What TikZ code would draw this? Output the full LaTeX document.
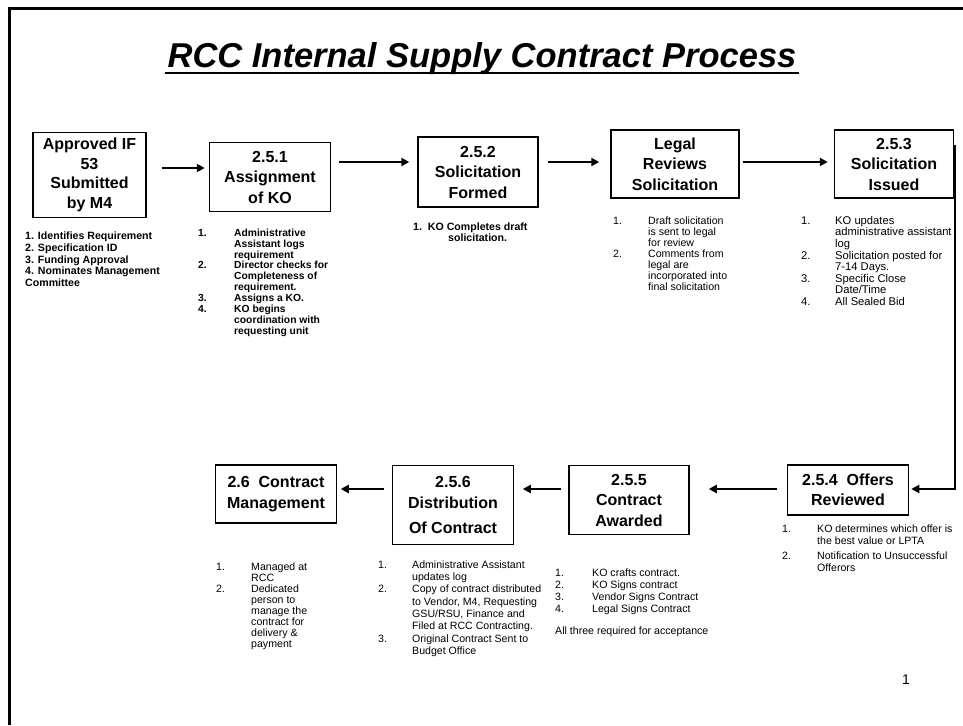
\documentclass[tikz,border=0pt]{standalone}
\usepackage{fontspec}
\setmainfont{Liberation Sans}
\usepackage{tikz}
\usetikzlibrary{arrows.meta}

\newlength\numw
\newcommand\boxfont{\bfseries\fontsize{16}{20.5}\selectfont}
\newcommand\notefont[1]{\fontsize{10.6}{#1}\selectfont}
\newcommand\nr[1]{\makebox[\numw][l]{#1}}
\newcommand\steplist[2]{\setlength\numw{#1}\begin{tabular}{@{}l@{}l@{}}#2\end{tabular}}

\tikzset{
  stepbox/.style={draw, line width=1.5pt, align=center, font=\boxfont, inner sep=0pt},
  flow/.style={line width=2.4pt, -{Triangle[length=8pt,width=8pt]}},
  notes/.style={anchor=north west, inner sep=0pt, align=left},
}

\begin{document}
\begin{tikzpicture}[x=1pt,y=-1pt]
    \useasboundingbox (0,0) rectangle (963,725);
    % Frame and title
    \draw[line width=3pt] (9,725) -- (9,9) -- (963,9);
    \node[anchor=base, inner sep=0pt, font=\bfseries\itshape\fontsize{34.5}{40}\selectfont] (title) at (482,67) {RCC Internal Supply Contract Process};
    \draw[line width=2.5pt] ([shift={(-2,6)}]title.base west) -- ([shift={(2,6)}]title.base east);

    % Top row of steps
    \node[stepbox, minimum width=113, minimum height=85, font=\bfseries\fontsize{16}{19.5}\selectfont] (appr) at (89.5,175) {Approved IF\\53\\Submitted\\by M4};
    \node[stepbox, minimum width=121, minimum height=69] (s251) at (270,177) {2.5.1\\Assignment\\of KO};
    \node[stepbox, minimum width=120, minimum height=70] (s252) at (478,172) {2.5.2\\Solicitation\\Formed};
    \node[stepbox, minimum width=128, minimum height=68] (legal) at (675,164) {Legal\\Reviews\\Solicitation};
    \node[stepbox, minimum width=119, minimum height=68] (s253) at (894,164) {2.5.3\\Solicitation\\Issued};

    % Bottom row of steps
    \node[stepbox, minimum width=121, minimum height=50] (s254) at (848,490) {2.5.4~~Offers\\Reviewed};
    \node[stepbox, minimum width=120, minimum height=69] (s255) at (629,500) {2.5.5\\Contract\\Awarded};
    \node[stepbox, minimum width=121, minimum height=79] (s256) at (453,505) {2.5.6\\Distribution\\[5pt]Of Contract};
    \node[stepbox, minimum width=121, minimum height=58] (s26) at (276,494) {2.6~~Contract\\Management};

    % Arrows between steps
    \draw[flow] ([shift={(15,-7)}]appr.east) -- ([shift={(-4,-9)}]s251.west);
    \draw[flow] ([shift={(8,-15)}]s251.east) -- ([shift={(-8,-10)}]s252.west);
    \draw[flow] ([shift={(9,-10)}]s252.east) -- ([shift={(-11,-2)}]legal.west);
    \draw[flow] ([shift={(3,-2)}]legal.east) -- ([shift={(-6,-2)}]s253.west);
    \draw[flow] ([shift={(1,-19)}]s253.east) |- ([shift={(2,-1)}]s254.east);
    \draw[flow] ([shift={(-9.5,-1)}]s254.west) -- ([shift={(19,-11)}]s255.east);
    \draw[flow] ([shift={(-7,-11)}]s255.west) -- ([shift={(8.5,-16)}]s256.east);
    \draw[flow] ([shift={(-7.5,-16)}]s256.west) -- ([shift={(3.5,-5)}]s26.east);

    % Notes under each step
    \node[notes, font=\bfseries\notefont{11.7}] (n0) at (25,232) {1. Identifies Requirement\\2. Specification ID\\3. Funding Approval\\4. Nominates Management\\Committee};
    \node[notes, font=\bfseries\fontsize{10.3}{10.9}\selectfont] (n251) at (198,228.4) {\steplist{36pt}{\nr{1.} & Administrative\\ & Assistant logs\\ & requirement\\\nr{2.} & Director checks for\\ & Completeness of\\ & requirement.\\\nr{3.} & Assigns a KO.\\\nr{4.} & KO begins\\ & coordination with\\ & requesting unit}};
    \node[notes, font=\bfseries\notefont{11}] (n252) at (413,222.3) {1.~~KO Completes draft\\\hspace*{35pt}solicitation.};
    \node[notes, font=\notefont{11}] (nlegal) at (613,216.3) {\steplist{35pt}{\nr{1.} & Draft solicitation\\ & is sent to legal\\ & for review\\\nr{2.} & Comments from\\ & legal are\\ & incorporated into\\ & final solicitation}};
    \node[notes, font=\fontsize{11.2}{11.5}\selectfont] (n253) at (801,216) {\steplist{34pt}{\nr{1.} & KO updates\\ & administrative assistant\\ & log\\\nr{2.} & Solicitation posted for\\ & 7-14 Days.\\\nr{3.} & Specific Close\\ & Date/Time\\\nr{4.} & All Sealed Bid}};
    \node[notes, font=\notefont{12}] (n254) at (782,523.6) {\steplist{35pt}{\nr{1.} & KO determines which offer is\\ & the best value or LPTA\\[3pt]\nr{2.} & Notification to Unsuccessful\\ & Offerors}};
    \node[notes, font=\notefont{12}] (n255) at (555,567.6) {\steplist{37pt}{\nr{1.} & KO crafts contract.\\\nr{2.} & KO Signs contract\\\nr{3.} & Vendor Signs Contract\\\nr{4.} & Legal Signs Contract\\[10pt]\multicolumn{2}{@{}l@{}}{All three required for acceptance}}};
    \node[notes, font=\notefont{12.3}] (n256) at (378,559.4) {\steplist{34pt}{\nr{1.} & Administrative Assistant\\ & updates log\\\nr{2.} & Copy of contract distributed\\ & to Vendor, M4, Requesting\\ & GSU/RSU, Finance and\\ & Filed at RCC Contracting.\\\nr{3.} & Original Contract Sent to\\ & Budget Office}};
    \node[notes, font=\notefont{11}] (n26) at (216,562.3) {\steplist{35pt}{\nr{1.} & Managed at\\ & RCC\\\nr{2.} & Dedicated\\ & person to\\ & manage the\\ & contract for\\ & delivery \&\\ & payment}};

    % Page number
    \node[font=\fontsize{14}{16}\selectfont] (pg) at (906,680) {1};
\end{tikzpicture}
\end{document}
